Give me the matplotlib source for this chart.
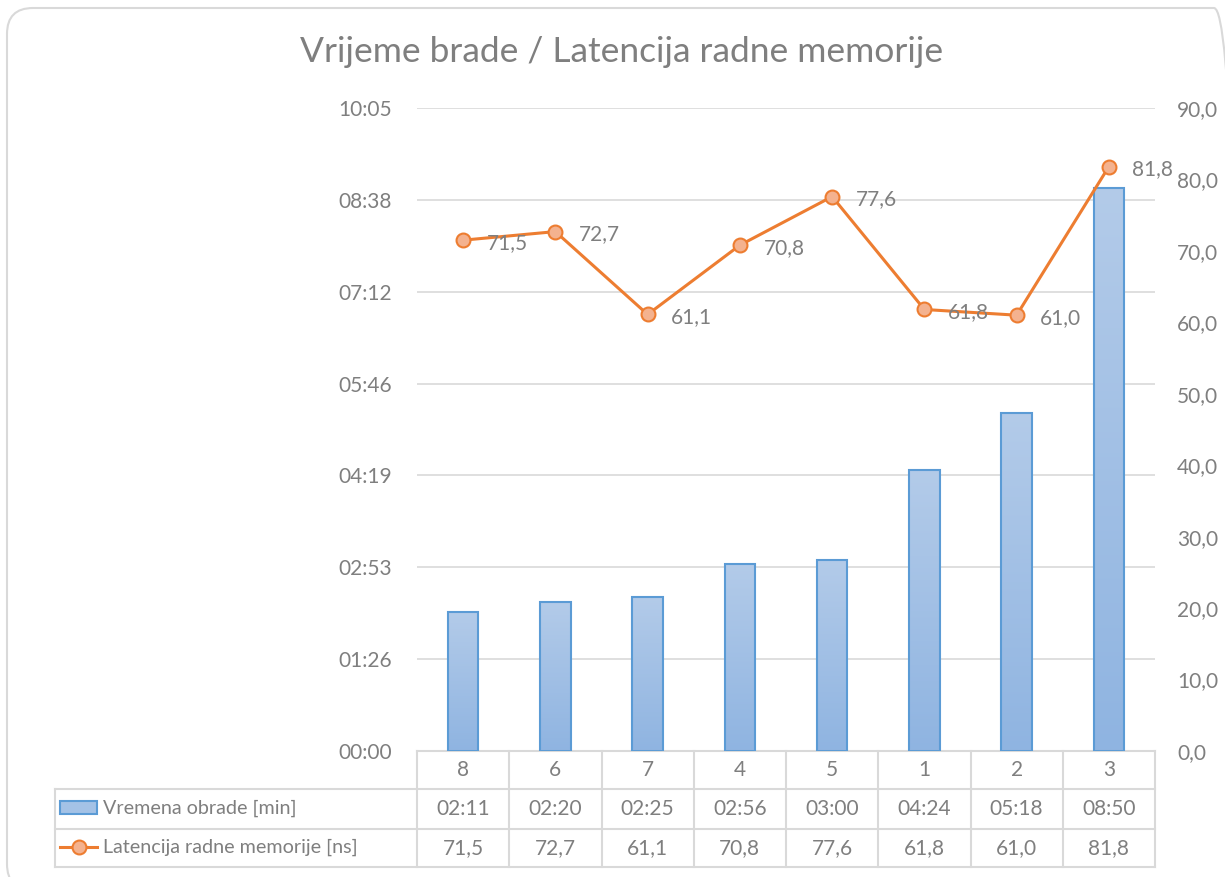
import numpy as np
import matplotlib.pyplot as plt
from matplotlib.patches import FancyBboxPatch, Rectangle
from matplotlib.lines import Line2D
from matplotlib.colors import LinearSegmentedColormap
from matplotlib.ticker import FixedLocator, FuncFormatter

plt.rcParams["font.family"] = ["Lato", "DejaVu Sans"]

categories = ["8", "6", "7", "4", "5", "1", "2", "3"]
time_labels = ["02:11", "02:20", "02:25", "02:56", "03:00", "04:24", "05:18", "08:50"]
time_seconds = [131, 140, 145, 176, 180, 264, 318, 530]
latency = [71.5, 72.7, 61.1, 70.8, 77.6, 61.8, 61.0, 81.8]
bar_name = "Vremena obrade [min]"
line_name = "Latencija radne memorije [ns]"
title = "Vrijeme brade / Latencija radne memorije"

TEXT = "#7f7f7f"
GRID = "#d9d9d9"
ORANGE = "#ed7d31"
MARKER_FACE = "#f4b28f"
BAR_EDGE = "#5b9bd5"
FS = 15

W, H = 1225, 877
fig = plt.figure(figsize=(W / 100, H / 100), dpi=100)

# outer rounded border, in pixels
fig.patches.append(FancyBboxPatch((7, H - 890), 1233, 882,
                                  boxstyle="round,pad=0,rounding_size=26",
                                  transform=None, fill=False,
                                  edgecolor=GRID, linewidth=1.5))

L, R, T, B = 417, 1155, 108, 751
ax = fig.add_axes([L / W, 1 - B / H, (R - L) / W, (B - T) / H])
ax2 = ax.twinx()

x = np.arange(len(categories))
step = 86.4
ymax = 7 * step

# bars with vertical gradient
bw = 0.33
grad = np.linspace(0, 1, 256).reshape(-1, 1)
cmap = LinearSegmentedColormap.from_list("bg", ["#8fb4e1", "#b3cbe9"])
bars = ax.bar(x, time_seconds, width=bw, color="none", edgecolor=BAR_EDGE, linewidth=1.5, zorder=3)
for b in bars:
    bx, by = b.get_x(), b.get_y()
    im = ax.imshow(grad, cmap=cmap, aspect="auto", origin="lower",
                   extent=[bx, bx + b.get_width(), by, by + b.get_height()], zorder=2)
    im.set_clip_path(b)

ax.set_xlim(-0.5, len(categories) - 0.5)
ax.set_ylim(0, ymax)
ax.yaxis.set_major_locator(FixedLocator([i * step for i in range(8)]))


def mmss(v, pos=None):
    s = int(round(v))
    return f"{s // 60:02d}:{s % 60:02d}"


ax.yaxis.set_major_formatter(FuncFormatter(mmss))
ax.grid(axis="y", color=GRID, linewidth=1.2, zorder=0)
ax.set_axisbelow(True)
ax.set_xticks([])
for sp in ax.spines.values():
    sp.set_visible(False)
ax.tick_params(axis="y", length=0, pad=18, labelsize=FS, labelcolor=TEXT)

ax2.plot(x, latency, color=ORANGE, linewidth=2.2, marker="o", markersize=10,
         markerfacecolor=MARKER_FACE, markeredgecolor=ORANGE, markeredgewidth=1.5, zorder=5)
for xi, v in zip(x, latency):
    ax2.annotate(f"{v:.1f}".replace(".", ","), (xi, v), xytext=(17, -2),
                 textcoords="offset points", ha="left", va="center",
                 fontsize=FS, color=TEXT, zorder=6)
ax2.set_ylim(0, 90)
ax2.set_yticks(range(0, 91, 10))
ax2.yaxis.set_major_formatter(FuncFormatter(lambda v, p: f"{v:.1f}".replace(".", ",")))
ax2.tick_params(axis="y", length=0, pad=16, labelsize=FS, labelcolor=TEXT)
for sp in ax2.spines.values():
    sp.set_visible(False)

fig.text(622 / W, 1 - 52 / H, title, ha="center", va="center", fontsize=25.5, color=TEXT)

# data table below the axes (axes coordinates for y, data for x)
ph = B - T
r1 = -(789 - B) / ph
r2 = -(829 - B) / ph
r3 = -(867 - B) / ph
xl = -0.5 - (L - 55) / ((R - L) / len(categories))
xr = len(categories) - 0.5
tr = ax.get_xaxis_transform()
lkw = dict(color=GRID, linewidth=1.5, transform=tr, clip_on=False)
ax.add_line(Line2D([-0.5, xr], [0, 0], **lkw))
for yy in (r1, r2, r3):
    ax.add_line(Line2D([xl, xr], [yy, yy], **lkw))
for xb in np.arange(-0.5, xr + 0.01, 1.0):
    ax.add_line(Line2D([xb, xb], [0, r3], **lkw))
ax.add_line(Line2D([xl, xl], [r1, r3], **lkw))

for i, c in enumerate(categories):
    ax.text(i, (0 + r1) / 2, c, transform=tr, ha="center", va="center", fontsize=FS, color=TEXT)
    ax.text(i, (r1 + r2) / 2, time_labels[i], transform=tr, ha="center", va="center", fontsize=FS, color=TEXT)
    ax.text(i, (r2 + r3) / 2, f"{latency[i]:.1f}".replace(".", ","), transform=tr,
            ha="center", va="center", fontsize=FS, color=TEXT)

# legend keys inside table
fig.patches.append(Rectangle((60 / W, 1 - 814 / H), 37 / W, 13 / H, transform=fig.transFigure,
                             facecolor="#a4c2e6", edgecolor=BAR_EDGE, linewidth=1.5))
fig.text(103 / W, 1 - 808 / H, bar_name, ha="left", va="center", fontsize=14.2, color=TEXT)
fig.lines.append(Line2D([60 / W, 97 / W], [1 - 847 / H, 1 - 847 / H], transform=fig.transFigure,
                        color=ORANGE, linewidth=2.2))
fig.lines.append(Line2D([78.5 / W], [1 - 847 / H], transform=fig.transFigure, marker="o",
                        markersize=10, markerfacecolor=MARKER_FACE, markeredgecolor=ORANGE,
                        markeredgewidth=1.5))
fig.text(103 / W, 1 - 847 / H, line_name, ha="left", va="center", fontsize=14.2, color=TEXT)

fig.savefig("out.png", dpi=100)
